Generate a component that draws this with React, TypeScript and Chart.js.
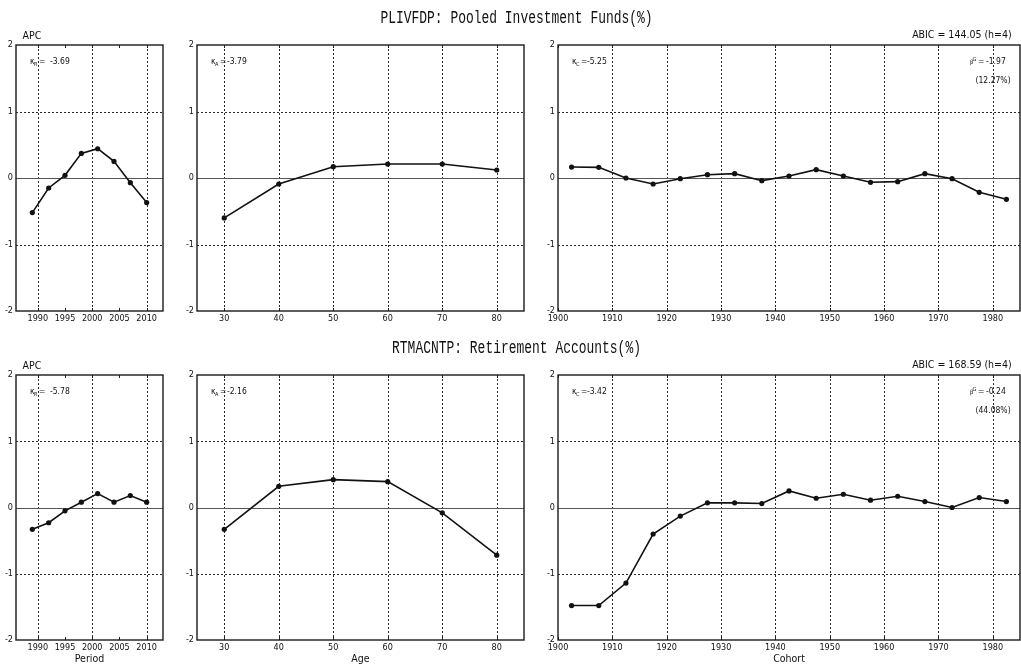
import React, { useEffect, useRef } from "react";
import { Chart, registerables } from "chart.js";

Chart.register(...registerables);

// ---------------- data ----------------
const periods = [1989, 1992, 1995, 1998, 2001, 2004, 2007, 2010];
const ages = [30, 40, 50, 60, 70, 80];
const cohorts = [1902.5, 1907.5, 1912.5, 1917.5, 1922.5, 1927.5, 1932.5, 1937.5, 1942.5, 1947.5, 1952.5, 1957.5, 1962.5, 1967.5, 1972.5, 1977.5, 1982.5];

const pooledPeriodEffect = [-0.52, -0.15, 0.04, 0.37, 0.44, 0.25, -0.07, -0.37];
const pooledAgeEffect = [-0.6, -0.09, 0.17, 0.21, 0.21, 0.12];
const pooledCohortEffect = [0.165, 0.16, 0.0, -0.09, -0.01, 0.05, 0.065, -0.04, 0.03, 0.125, 0.03, -0.065, -0.055, 0.065, -0.01, -0.215, -0.32];

const retirePeriodEffect = [-0.33, -0.23, -0.05, 0.08, 0.21, 0.08, 0.18, 0.08];
const retireAgeEffect = [-0.33, 0.32, 0.42, 0.39, -0.08, -0.72];
const retireCohortEffect = [-1.48, -1.48, -1.14, -0.4, -0.13, 0.07, 0.07, 0.06, 0.25, 0.14, 0.2, 0.11, 0.17, 0.09, 0.0, 0.15, 0.09];

const periodTicks = [1990, 1995, 2000, 2005, 2010];
const periodGrid = [1990, 2000, 2010];
const ageTicks = [30, 40, 50, 60, 70, 80];
const cohortTicks = [1900, 1910, 1920, 1930, 1940, 1950, 1960, 1970, 1980];
const yTicks = [-2, -1, 0, 1, 2];
const yGrid = [-1, 1];

const rowTitles = ["PLIVFDP: Pooled Investment Funds(%)", "RTMACNTP: Retirement Accounts(%)"];
const abicLabels = ["ABIC = 144.05 (h=4)", "ABIC = 168.59 (h=4)"];
const kappaR = ["-3.69", "-5.78"];
const kappaA = ["-3.79", "-2.16"];
const kappaC = ["-5.25", "-3.42"];
const betaG = ["-1.97", "-0.24"];
const betaShare = ["(12.27%)", "(44.08%)"];
const xAxisTitles = ["Period", "Age", "Cohort"];
const modelLabel = "APC";

// ---------------- styling / layout ----------------
const NARROW = "'Liberation Sans Narrow','DejaVu Sans Condensed','Liberation Sans',Arial,sans-serif";
const INK = "#111";

const COLS = [
  { cx: 0, cw: 165, L: 16, R: 163 },
  { cx: 180, cw: 346, L: 197, R: 524 },
  { cx: 540, cw: 481, L: 558, R: 1020 },
];
const ROWS = [
  { cy: 20, ch: 319, T: 45, B: 311, titleY: 18 },
  { cy: 350, ch: 318, T: 375, B: 640, titleY: 348 },
];

type PanelProps = {
  col: number;
  row: number;
  xs: number[];
  ys: number[];
  xMin: number;
  xMax: number;
  xTicks: number[];
  xGrid: number[];
  xTitle?: string;
  kSub: string;
  kValue: string;
  kValOff: number;
  topLeft?: string;
  abic?: string;
  beta?: string;
  share?: string;
};

function Panel(p: PanelProps) {
  const ref = useRef<HTMLCanvasElement>(null);
  const { cx, cw, L, R } = COLS[p.col];
  const { cy, ch, T, B } = ROWS[p.row];

  useEffect(() => {
    const canvas = ref.current;
    if (!canvas) return;

    const txt = (ctx: CanvasRenderingContext2D, s: string, x: number, y: number, size: number, align: CanvasTextAlign = "left") => {
      ctx.font = `${size}px ${NARROW}`;
      ctx.textAlign = align;
      ctx.textBaseline = "middle";
      ctx.fillStyle = INK;
      ctx.fillText(s, x, y);
    };

    const deco = {
      id: "deco",
      beforeDatasetsDraw(chart: any) {
        const { ctx, chartArea: a, scales } = chart;
        const xs = scales.x;
        const ys = scales.y;
        ctx.save();
        ctx.lineWidth = 1;
        ctx.strokeStyle = "#2a2a2a";
        ctx.setLineDash([2, 2]);
        p.xGrid.forEach((v) => {
          const px = Math.round(xs.getPixelForValue(v)) + 0.5;
          ctx.beginPath();
          ctx.moveTo(px, a.top);
          ctx.lineTo(px, a.bottom);
          ctx.stroke();
        });
        yGrid.forEach((v) => {
          const py = Math.round(ys.getPixelForValue(v)) + 0.5;
          ctx.beginPath();
          ctx.moveTo(a.left, py);
          ctx.lineTo(a.right, py);
          ctx.stroke();
        });
        ctx.setLineDash([]);
        ctx.strokeStyle = "#555";
        const pz = Math.round(ys.getPixelForValue(0)) + 0.5;
        ctx.beginPath();
        ctx.moveTo(a.left, pz);
        ctx.lineTo(a.right, pz);
        ctx.stroke();
        ctx.strokeStyle = "#222";
        p.xTicks.forEach((v) => {
          const px = Math.round(xs.getPixelForValue(v)) + 0.5;
          ctx.beginPath();
          ctx.moveTo(px, a.top);
          ctx.lineTo(px, a.top + 3);
          ctx.moveTo(px, a.bottom);
          ctx.lineTo(px, a.bottom - 3);
          ctx.stroke();
        });
        ctx.restore();
      },
      afterDatasetsDraw(chart: any) {
        const { ctx, chartArea: a } = chart;
        ctx.save();
        ctx.strokeStyle = "#1a1a1a";
        ctx.lineWidth = 1.4;
        ctx.strokeRect(a.left, a.top, a.right - a.left, a.bottom - a.top);
        // kappa annotation
        txt(ctx, "\u03BA", a.left + 14, a.top + 17, 8.5);
        txt(ctx, p.kSub, a.left + 18, a.top + 19.5, 5.5);
        txt(ctx, "=", a.left + 23, a.top + 17, 8.5);
        txt(ctx, p.kValue, a.left + p.kValOff, a.top + 17, 8.5);
        if (p.topLeft) txt(ctx, p.topLeft, a.left + 6.5, a.top - 9, 10.5);
        if (p.abic) txt(ctx, p.abic, a.right - 8.3, a.top - 10, 10.5, "right");
        if (p.beta) {
          txt(ctx, "\u03B2", a.right - 50, a.top + 17.5, 6);
          txt(ctx, "G", a.right - 47.5, a.top + 15, 5.5);
          txt(ctx, "=", a.right - 42, a.top + 17, 8.5);
          txt(ctx, p.beta, a.right - 34, a.top + 17, 8.5);
        }
        if (p.share) txt(ctx, p.share, a.right - 44.5, a.top + 36, 8.5);
        ctx.restore();
      },
    };

    const tickFont = { family: NARROW, size: 9 };

    const chart = new Chart(canvas, {
      type: "line",
      data: {
        datasets: [
          {
            data: p.xs.map((x, i) => ({ x, y: p.ys[i] })),
            borderColor: INK,
            backgroundColor: INK,
            borderWidth: 1.6,
            pointRadius: 2.6,
            pointBackgroundColor: INK,
            pointBorderWidth: 0,
            tension: 0,
          },
        ],
      },
      options: {
        responsive: false,
        animation: false,
        events: [],
        layout: { autoPadding: false, padding: { left: 0, top: T - cy, right: cx + cw - R, bottom: 0 } },
        plugins: { legend: { display: false }, tooltip: { enabled: false }, title: { display: false } },
        scales: {
          x: {
            type: "linear",
            min: p.xMin,
            max: p.xMax,
            afterBuildTicks: (s: any) => {
              s.ticks = p.xTicks.map((v) => ({ value: v }));
            },
            afterFit: (s: any) => {
              s.height = cy + ch - B;
              s.paddingLeft = 0;
              s.paddingRight = 0;
            },
            grid: { display: false, drawTicks: false },
            border: { display: false },
            ticks: {
              autoSkip: false,
              maxRotation: 0,
              minRotation: 0,
              padding: 2,
              font: tickFont,
              color: INK,
              callback: (v: any) => String(v),
            },
            title: {
              display: !!p.xTitle,
              text: p.xTitle || "",
              font: { family: NARROW, size: 10.5 },
              color: INK,
              padding: { top: 0, bottom: 2 },
            },
          },
          y: {
            type: "linear",
            min: -2,
            max: 2,
            afterBuildTicks: (s: any) => {
              s.ticks = yTicks.map((v) => ({ value: v }));
            },
            afterFit: (s: any) => {
              s.width = L - cx;
            },
            grid: { display: false, drawTicks: false },
            border: { display: false },
            ticks: {
              autoSkip: false,
              padding: 3,
              font: tickFont,
              color: INK,
              callback: (v: any) => String(v),
            },
          },
        },
      } as any,
      plugins: [deco],
    });
    return () => chart.destroy();
  }, []);

  return (
    <canvas
      ref={ref}
      width={cw}
      height={ch}
      style={{ position: "absolute", left: cx, top: cy, width: cw, height: ch }}
    />
  );
}

function RowTitle({ text, y }: { text: string; y: number }) {
  return (
    <div
      style={{
        position: "absolute",
        left: 0,
        width: 1033,
        top: y - 11,
        height: 22,
        lineHeight: "22px",
        textAlign: "center",
        fontFamily: "'Liberation Mono','DejaVu Sans Mono',monospace",
        fontSize: 18,
        color: INK,
        whiteSpace: "nowrap",
        transform: "scaleX(0.72)",
        transformOrigin: "516.5px 50%",
      }}
    >
      {text}
    </div>
  );
}

export default function App() {
  const rowData = [
    [pooledPeriodEffect, pooledAgeEffect, pooledCohortEffect],
    [retirePeriodEffect, retireAgeEffect, retireCohortEffect],
  ];
  return (
    <div style={{ position: "absolute", left: 0, top: 0, width: 1021, height: 668, background: "#fff", overflow: "hidden" }}>
      {[0, 1].map((r) => (
        <React.Fragment key={r}>
          <Panel
            col={0}
            row={r}
            xs={periods}
            ys={rowData[r][0]}
            xMin={1986}
            xMax={2013}
            xTicks={periodTicks}
            xGrid={periodGrid}
            xTitle={r === 1 ? xAxisTitles[0] : undefined}
            kSub="R"
            kValue={kappaR[r]}
            kValOff={34}
            topLeft={modelLabel}
          />
          <Panel
            col={1}
            row={r}
            xs={ages}
            ys={rowData[r][1]}
            xMin={25}
            xMax={85}
            xTicks={ageTicks}
            xGrid={ageTicks}
            xTitle={r === 1 ? xAxisTitles[1] : undefined}
            kSub="A"
            kValue={kappaA[r]}
            kValOff={30}
          />
          <Panel
            col={2}
            row={r}
            xs={cohorts}
            ys={rowData[r][2]}
            xMin={1900}
            xMax={1985}
            xTicks={cohortTicks}
            xGrid={cohortTicks.slice(1)}
            xTitle={r === 1 ? xAxisTitles[2] : undefined}
            kSub="C"
            kValue={kappaC[r]}
            kValOff={29}
            abic={abicLabels[r]}
            beta={betaG[r]}
            share={betaShare[r]}
          />
          <RowTitle text={rowTitles[r]} y={ROWS[r].titleY} />
        </React.Fragment>
      ))}
    </div>
  );
}
